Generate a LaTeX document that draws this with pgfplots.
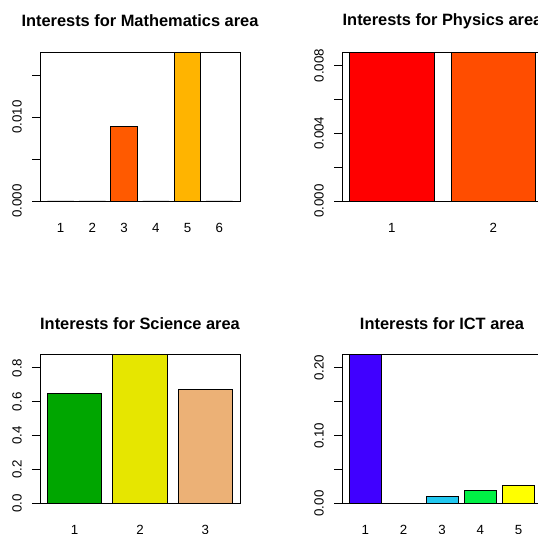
\documentclass[border=0pt]{standalone}
\usepackage{pgfplots}
\pgfplotsset{compat=1.18}
\usepackage{fontspec}
\setmainfont{Liberation Sans}
\definecolor{m3}{HTML}{FF5A00}
\definecolor{m5}{HTML}{FFB400}
\definecolor{p1}{HTML}{FF0000}
\definecolor{p2}{HTML}{FF4D00}
\definecolor{s1}{HTML}{00A600}
\definecolor{s2}{HTML}{E6E600}
\definecolor{s3}{HTML}{ECB176}
\definecolor{i1}{HTML}{4000FF}
\definecolor{i2}{HTML}{0040FF}
\definecolor{i3}{HTML}{22C8F0}
\definecolor{i4}{HTML}{00F045}
\definecolor{i5}{HTML}{FFFF00}
\pgfplotsset{
  rstyle/.style={
    scale only axis, width=200pt, height=149pt, ymin=0,
    clip=false, scaled y ticks=false,
    axis line style={line width=0.9pt, black},
    tick align=outside, ytick pos=left, xtick pos=bottom,
    major tick length=8pt,
    every tick/.style={black, line width=0.9pt},
    xtick style={draw=none},
    yticklabel style={rotate=90, anchor=center, font=\fontsize{13.3}{15}\selectfont, inner sep=0pt},
    yticklabel shift=15pt,
    xticklabel style={anchor=center, font=\fontsize{13.3}{15}\selectfont, inner sep=0pt},
    xticklabel shift=18pt,
    title style={at={(0.5,1)}, anchor=center, yshift=25pt, font=\bfseries\fontsize{16.4}{19}\selectfont},
  },
  rbar/.style={ybar, bar width=1, bar shift=0pt, draw=black, line width=0.9pt, fill=#1},
}
\begin{document}
\begin{tikzpicture}
\begin{scope}
\clip (0pt,0pt) rectangle (538pt,534pt);
% Mathematics
\begin{axis}[rstyle, at={(40pt,333pt)}, anchor=south west,
  title={Interests for Mathematics area},
  xmin=-0.08, xmax=7.48, ymax=0.01774,
  xtick={0.7,1.9,3.1,4.3,5.5,6.7}, xticklabels={1,2,3,4,5,6},
  ytick={0,0.005,0.010,0.015}, yticklabels={0.000,,0.010,},
  xticklabel shift=19pt]
\addplot[rbar=black] coordinates {(0.7,0)};
\addplot[rbar=black] coordinates {(1.9,0)};
\addplot[rbar=m3] coordinates {(3.1,0.0089)};
\addplot[rbar=black] coordinates {(4.3,0)};
\addplot[rbar=m5] coordinates {(5.5,0.01774)};
\addplot[rbar=black] coordinates {(6.7,0)};
\end{axis}
% Physics
\begin{axis}[rstyle, width=201pt, at={(342pt,333pt)}, anchor=south west,
  title={Interests for Physics area},
  xmin=0.112, xmax=2.488, ymax=0.00881,
  xtick={0.7,1.9}, xticklabels={1,2},
  ytick={0,0.002,0.004,0.006,0.008}, yticklabels={0.000,,0.004,,0.008},
  xticklabel shift=19pt]
\addplot[rbar=p1] coordinates {(0.7,0.00881)};
\addplot[rbar=p2] coordinates {(1.9,0.00881)};
\end{axis}
% Science
\begin{axis}[rstyle, at={(40pt,30.5pt)}, anchor=south west,
  title={Interests for Science area},
  xmin=0.064, xmax=3.736, ymax=0.879,
  xtick={0.7,1.9,3.1}, xticklabels={1,2,3},
  ytick={0,0.2,0.4,0.6,0.8}, yticklabels={0.0,0.2,0.4,0.6,0.8}]
\addplot[rbar=s1] coordinates {(0.7,0.652)};
\addplot[rbar=s2] coordinates {(1.9,0.879)};
\addplot[rbar=s3] coordinates {(3.1,0.670)};
\end{axis}
% ICT
\begin{axis}[rstyle, at={(342pt,30.5pt)}, anchor=south west,
  title={Interests for ICT area},
  xmin=-0.032, xmax=6.232, ymax=0.2197,
  xtick={0.7,1.9,3.1,4.3,5.5}, xticklabels={1,2,3,4,5},
  ytick={0,0.05,0.10,0.15,0.20}, yticklabels={0.00,,0.10,,0.20}]
\addplot[rbar=i1] coordinates {(0.7,0.2197)};
\addplot[rbar=i2] coordinates {(1.9,0)};
\addplot[rbar=i3] coordinates {(3.1,0.0099)};
\addplot[rbar=i4] coordinates {(4.3,0.0188)};
\addplot[rbar=i5] coordinates {(5.5,0.0262)};
\end{axis}
\end{scope}
\pgfresetboundingbox
\useasboundingbox (0pt,0pt) rectangle (538pt,534pt);
\end{tikzpicture}
\end{document}
